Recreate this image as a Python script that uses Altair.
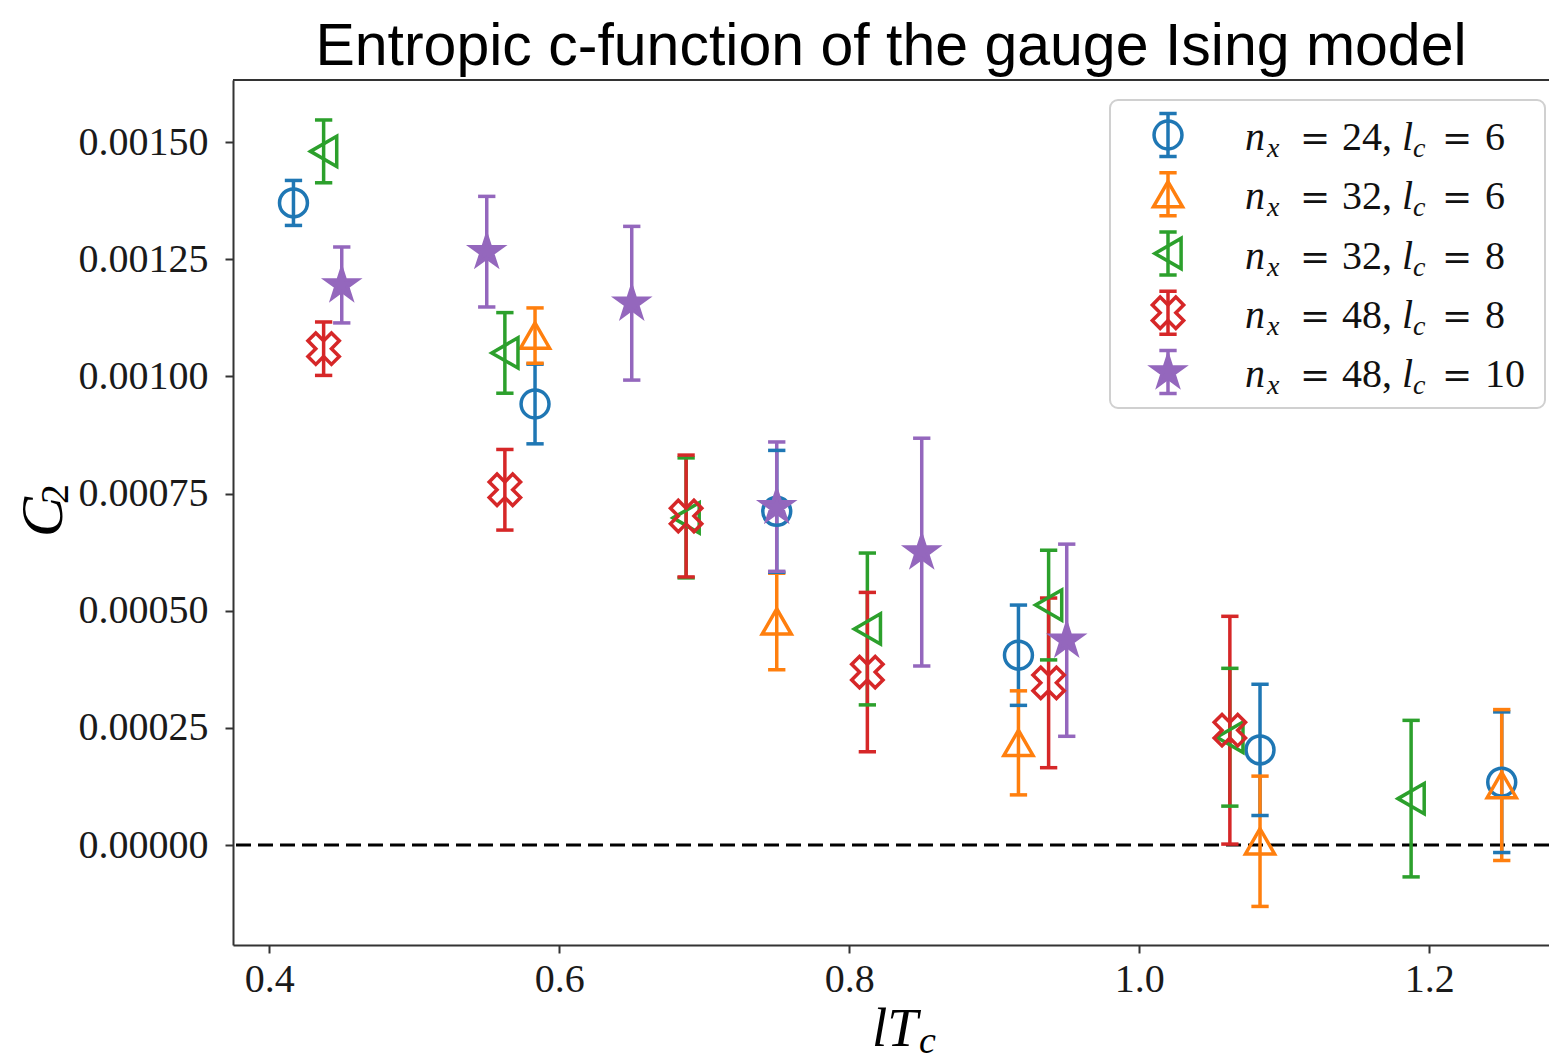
import altair as alt
import pandas as pd

# ---------------- data ----------------
series_keys = ["nx24_lc6", "nx32_lc6", "nx32_lc8", "nx48_lc8", "nx48_lc10"]
nx_list = [24, 32, 32, 48, 48]
lc_list = [6, 6, 8, 8, 10]

lt_24_6 = [0.4167, 0.5833, 0.75, 0.9167, 1.0833, 1.25]
c2_24_6 = [0.001370, 0.000941, 0.000712, 0.000405, 0.000203, 0.000134]
err_24_6 = [0.000048, 0.000085, 0.000130, 0.000107, 0.000140, 0.000150]

lt_32_6 = [0.5833, 0.75, 0.9167, 1.0833, 1.25]
c2_32_6 = [0.001087, 0.000477, 0.000218, 0.000008, 0.000128]
err_32_6 = [0.000059, 0.000103, 0.000111, 0.000139, 0.000161]

lt_32_8 = [0.4375, 0.5625, 0.6875, 0.8125, 0.9375, 1.0625, 1.1875]
c2_32_8 = [0.001480, 0.001050, 0.000698, 0.000461, 0.000512, 0.000230, 0.000099]
err_32_8 = [0.000067, 0.000086, 0.000128, 0.000162, 0.000117, 0.000147, 0.000167]

lt_48_8 = [0.4375, 0.5625, 0.6875, 0.8125, 0.9375, 1.0625]
c2_48_8 = [0.001059, 0.000758, 0.000702, 0.000369, 0.000346, 0.000245]
err_48_8 = [0.000057, 0.000086, 0.000130, 0.000170, 0.000181, 0.000243]

lt_48_10 = [0.45, 0.55, 0.65, 0.75, 0.85, 0.95]
c2_48_10 = [0.001195, 0.001266, 0.001156, 0.000722, 0.000625, 0.000437]
err_48_10 = [0.000081, 0.000118, 0.000164, 0.000138, 0.000243, 0.000205]

x_ticks = [0.4, 0.6, 0.8, 1.0, 1.2]
y_ticks = [0.0, 0.00025, 0.0005, 0.00075, 0.001, 0.00125, 0.0015]

# ---------------- styles ----------------
colors = ["#1f77b4", "#ff7f0e", "#2ca02c", "#d62728", "#9467bd"]
x_path = "M-0.5,-1L0,-0.5L0.5,-1L1,-0.5L0.5,0L1,0.5L0.5,1L0,0.5L-0.5,1L-1,0.5L-0.5,0L-1,-0.5Z"
star_path = ("M0,-1L0.2245,-0.309L0.9511,-0.309L0.3633,0.118L0.5878,0.809L0,0.382"
             "L-0.5878,0.809L-0.3633,0.118L-0.9511,-0.309L-0.2245,-0.309Z")
shapes = ["circle", "triangle-up", "triangle-left", x_path, star_path]
fills = ["transparent", "transparent", "transparent", "transparent", "#9467bd"]
sizes = [780, 1050, 1100, 780, 560]

W, H = 1316, 865
LW = 3.5
X_DOM = [0.375, 1.2826]
Y_DOM = [-0.0002133, 0.0016323]

rows = []
for key, xs, ys, es in zip(
    series_keys,
    [lt_24_6, lt_32_6, lt_32_8, lt_48_8, lt_48_10],
    [c2_24_6, c2_32_6, c2_32_8, c2_48_8, c2_48_10],
    [err_24_6, err_32_6, err_32_8, err_48_8, err_48_10],
):
    for x, y, e in zip(xs, ys, es):
        rows.append({"series": key, "lT": x, "C2": y, "err": e})
df = pd.DataFrame(rows)

leg = pd.DataFrame({"series": series_keys, "nx": nx_list, "lc": lc_list,
                    "row": list(range(len(series_keys)))})
one = pd.DataFrame({"k": [0]})

xscale = alt.Scale(domain=X_DOM, nice=False, zero=False)
yscale = alt.Scale(domain=Y_DOM, nice=False, zero=False)
xaxis = alt.Axis(values=x_ticks, format=".1f", title=None, labelPadding=6, orient="bottom")
yaxis = alt.Axis(values=y_ticks, format=".5f", title=None, labelPadding=17, orient="left")

color = alt.Color("series:N", scale=alt.Scale(domain=series_keys, range=colors), legend=None)
shape = alt.Shape("series:N", scale=alt.Scale(domain=series_keys, range=shapes), legend=None)
stroke = alt.Stroke("series:N", scale=alt.Scale(domain=series_keys, range=colors), legend=None)
fill = alt.Fill("series:N", scale=alt.Scale(domain=series_keys, range=fills), legend=None)
size = alt.Size("series:N", scale=alt.Scale(domain=series_keys, range=sizes), legend=None)

base = alt.Chart(df).transform_calculate(
    lo="datum.C2 - datum.err", hi="datum.C2 + datum.err"
)
X = alt.X("lT:Q", scale=xscale, axis=xaxis)


def Yf(field):
    return alt.Y(field, scale=yscale, axis=yaxis)


bars = base.mark_rule(strokeWidth=LW).encode(x=X, y=Yf("lo:Q"), y2="hi:Q", color=color)
cap_hi = base.mark_point(shape="stroke", size=300, strokeWidth=LW, opacity=1, filled=False).encode(
    x=X, y=Yf("hi:Q"), color=color)
cap_lo = base.mark_point(shape="stroke", size=300, strokeWidth=LW, opacity=1, filled=False).encode(
    x=X, y=Yf("lo:Q"), color=color)
pts = base.mark_point(strokeWidth=LW, opacity=1, fillOpacity=1).encode(
    x=X, y=Yf("C2:Q"), shape=shape, stroke=stroke, fill=fill, size=size)
zero = alt.Chart(one).mark_rule(color="black", strokeWidth=3, strokeDash=[15, 7]).encode(
    y=alt.datum(0))
top_spine = alt.Chart(one).mark_rule(color="#333333", strokeWidth=2).encode(
    x=alt.value(0), x2=alt.value(W), y=alt.value(0))

serif = "Liberation Serif"


def fixed_text(txt, x, y, fs, italic=False, angle=None, align="left"):
    kw = dict(text=txt, font=serif, fontSize=fs, align=align, baseline="alphabetic", color="black")
    if italic:
        kw["fontStyle"] = "italic"
    if angle is not None:
        kw["angle"] = angle
    return alt.Chart(one).mark_text(**kw).encode(x=alt.value(x), y=alt.value(y))


xt1 = fixed_text("lT", 639, 966, 55, italic=True)
xt2 = fixed_text("c", 686, 973, 38, italic=True)
yt1 = fixed_text("C", -171, 437, 60, italic=True, angle=270, align="center")
yt2 = fixed_text("2", -165, 414, 40, angle=270, align="center")

# ---------------- legend (placed in pixel layout, converted to data units) ----------------
ROW0, ROWSTEP, HALF = 55, 59.25, 21.5
span = Y_DOM[1] - Y_DOM[0]


def pix_expr(p):
    return f"{Y_DOM[1]} - ({p}) / {H} * {span}"


lbase = alt.Chart(leg).transform_calculate(
    ly=pix_expr(f"{ROW0} + datum.row * {ROWSTEP}"),
    ltop=pix_expr(f"{ROW0} + datum.row * {ROWSTEP} - {HALF}"),
    lbot=pix_expr(f"{ROW0} + datum.row * {ROWSTEP} + {HALF}"),
    nxlab="datum.nx + ','", lclab="'' + datum.lc",
)
LX = 935
box = alt.Chart(one).mark_rect(fill="white", fillOpacity=0.85, stroke="#d0d0d0", strokeWidth=2,
                               cornerRadius=8).encode(
    x=alt.value(877), x2=alt.value(1312), y=alt.value(20), y2=alt.value(328))
lbars = lbase.mark_rule(strokeWidth=LW).encode(
    x=alt.value(LX), y=Yf("ltop:Q"), y2="lbot:Q", color=color)
lcap1 = lbase.mark_point(shape="stroke", size=300, strokeWidth=LW, opacity=1, filled=False).encode(
    x=alt.value(LX), y=Yf("ltop:Q"), color=color)
lcap2 = lbase.mark_point(shape="stroke", size=300, strokeWidth=LW, opacity=1, filled=False).encode(
    x=alt.value(LX), y=Yf("lbot:Q"), color=color)
lpts = lbase.mark_point(strokeWidth=LW, opacity=1, fillOpacity=1).encode(
    x=alt.value(LX), y=Yf("ly:Q"), shape=shape, stroke=stroke, fill=fill, size=size)


def ltext(x, txt=None, field=None, italic=False, fs=40, dy=15, font=serif):
    kw = dict(font=font, fontSize=fs, align="left", baseline="alphabetic", dy=dy, color="#111111")
    if italic:
        kw["fontStyle"] = "italic"
    if txt is not None:
        kw["text"] = txt
    enc = dict(x=alt.value(x), y=Yf("ly:Q"))
    if field is not None:
        enc["text"] = alt.Text(field)
    return lbase.mark_text(**kw).encode(**enc)


chart = alt.layer(
    zero, bars, cap_hi, cap_lo, pts, top_spine, xt1, xt2, yt1, yt2,
    box, lbars, lcap1, lcap2, lpts,
    ltext(1012, txt="n", italic=True),
    ltext(1034, txt="x", italic=True, fs=28, dy=22),
    ltext(1067, txt="=", fs=36, font="DejaVu Serif"),
    ltext(1109, field="nxlab:N"),
    ltext(1169, txt="l", italic=True),
    ltext(1180, txt="c", italic=True, fs=28, dy=22),
    ltext(1209, txt="=", fs=36, font="DejaVu Serif"),
    ltext(1252, field="lclab:N"),
).properties(
    width=W, height=H,
    autosize=alt.AutoSizeParams(type="none"),
    padding={"left": 225, "top": 72, "right": 0, "bottom": 118},
    title=alt.TitleParams("Entropic c-function of the gauge Ising model",
                          font="Liberation Sans", fontSize=59, fontWeight="normal",
                          color="black", anchor="middle", frame="group",
                          baseline="alphabetic", offset=15, dy=60),
).configure_view(stroke=None).configure_axis(
    labelFont=serif, labelFontSize=40, labelColor="#1a1a1a",
    tickColor="#333333", tickWidth=2, tickSize=8,
    domainColor="#333333", domainWidth=2, grid=False,
)

chart.save("out.html", embed_options={"renderer": "svg", "actions": False})
